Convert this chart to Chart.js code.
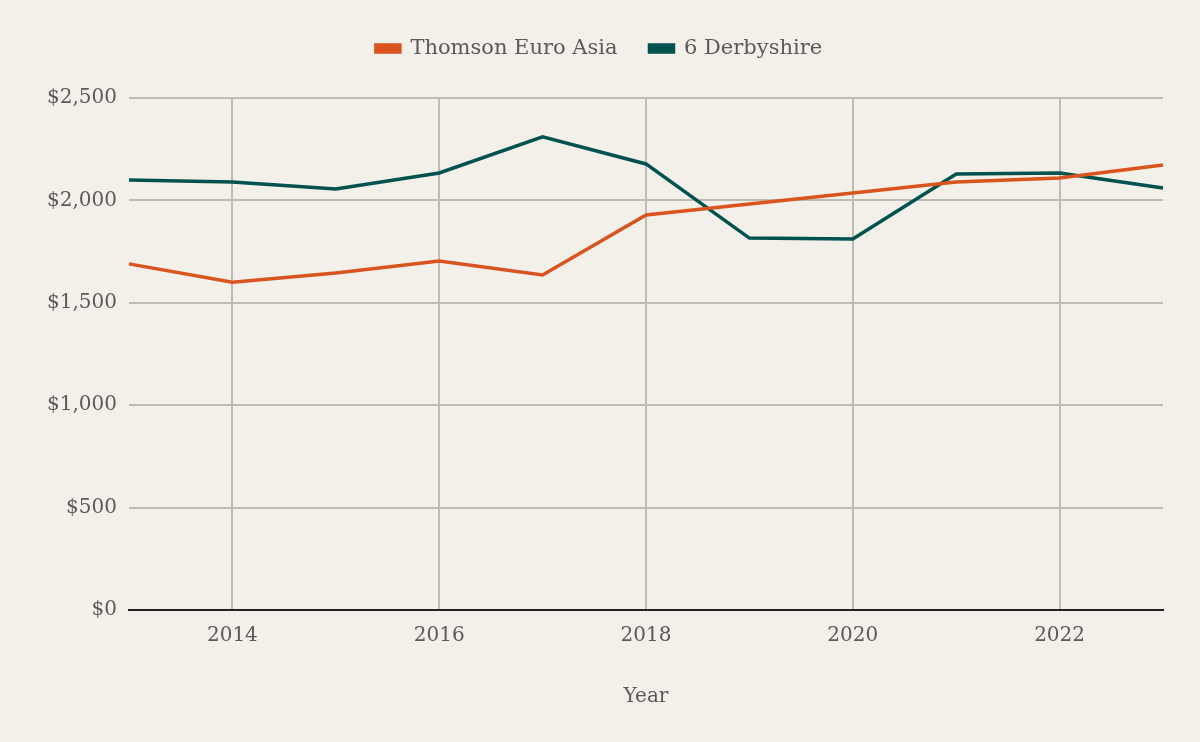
<!DOCTYPE html>
<html>
<head>
<meta charset="utf-8">
<script src="https://cdn.jsdelivr.net/npm/chart.js@4"></script>
<style>
  html, body { margin: 0; padding: 0; background: #f3efe9; }
  #wrap { width: 1200px; height: 742px; }
</style>
</head>
<body>
<div id="wrap"><canvas id="chart" width="1200" height="742"></canvas></div>
<script>
// Dữ liệu biểu đồ
const years = ["2013", "2014", "2015", "2016", "2017", "2018", "2019", "2020", "2021", "2022", "2023"];
const thomsonEuroAsia = [1690, 1600, 1646, 1704, 1636, 1929, 1982, 2036, 2090, 2109, 2173];
const derbyshire6 = [2100, 2090, 2056, 2134, 2310, 2178, 1816, 1812, 2129, 2134, 2061];
const seriesNames = ["Thomson Euro Asia", "6 Derbyshire"];

const FONT = "Georgia, 'DejaVu Serif', serif";
const TEXT = "#5a5a5a";
const GRID = "#bfbbb6";

// Thêm khoảng trống dưới chú thích
const legendSpacer = {
    id: "legendSpacer",
    beforeInit(chart) {
        const origFit = chart.legend.fit;
        chart.legend.fit = function () {
            origFit.bind(chart.legend)();
            this.height += 29;
        };
    }
};

const ctx = document.getElementById("chart").getContext("2d");

new Chart(ctx, {
    type: "line",
    data: {
        labels: years,
        datasets: [
            {
                label: seriesNames[0],
                data: thomsonEuroAsia,
                borderColor: "#d9541e",
                backgroundColor: "#d9541e",
                borderWidth: 3.5,
                pointRadius: 0,
                tension: 0
            },
            {
                label: seriesNames[1],
                data: derbyshire6,
                borderColor: "#00524f",
                backgroundColor: "#00524f",
                borderWidth: 3.5,
                pointRadius: 0,
                tension: 0
            }
        ]
    },
    options: {
        responsive: false,
        animation: false,
        layout: { padding: { top: 6, right: 37, left: 35, bottom: 29 } },
        plugins: {
            legend: {
                display: true,
                position: "top",
                labels: {
                    font: { family: FONT, size: 21 },
                    color: TEXT,
                    boxWidth: 24,
                    boxHeight: 7,
                    padding: 32
                }
            },
            tooltip: { enabled: false }
        },
        scales: {
            x: {
                offset: false,
                grid: {
                    color: (c) => (c.index % 2 === 1 ? GRID : "rgba(0,0,0,0)"),
                    lineWidth: 2,
                    drawTicks: false
                },
                border: { display: true, color: "#222", width: 2 },
                ticks: {
                    autoSkip: false,
                    maxRotation: 0,
                    padding: 14,
                    font: { family: FONT, size: 20 },
                    color: TEXT,
                    callback: function (val, i) {
                        return i % 2 === 1 ? years[i] : "";
                    }
                },
                title: {
                    display: true,
                    text: "Year",
                    font: { family: FONT, size: 20 },
                    color: TEXT,
                    padding: { top: 23 }
                }
            },
            y: {
                min: 0,
                max: 2500,
                grid: { color: GRID, lineWidth: 2, drawTicks: false },
                border: { display: false },
                ticks: {
                    stepSize: 500,
                    padding: 12,
                    font: { family: FONT, size: 20 },
                    color: TEXT,
                    callback: (v) => "$" + v.toLocaleString("en-US")
                }
            }
        }
    },
    plugins: [legendSpacer]
});
</script>
</body>
</html>
